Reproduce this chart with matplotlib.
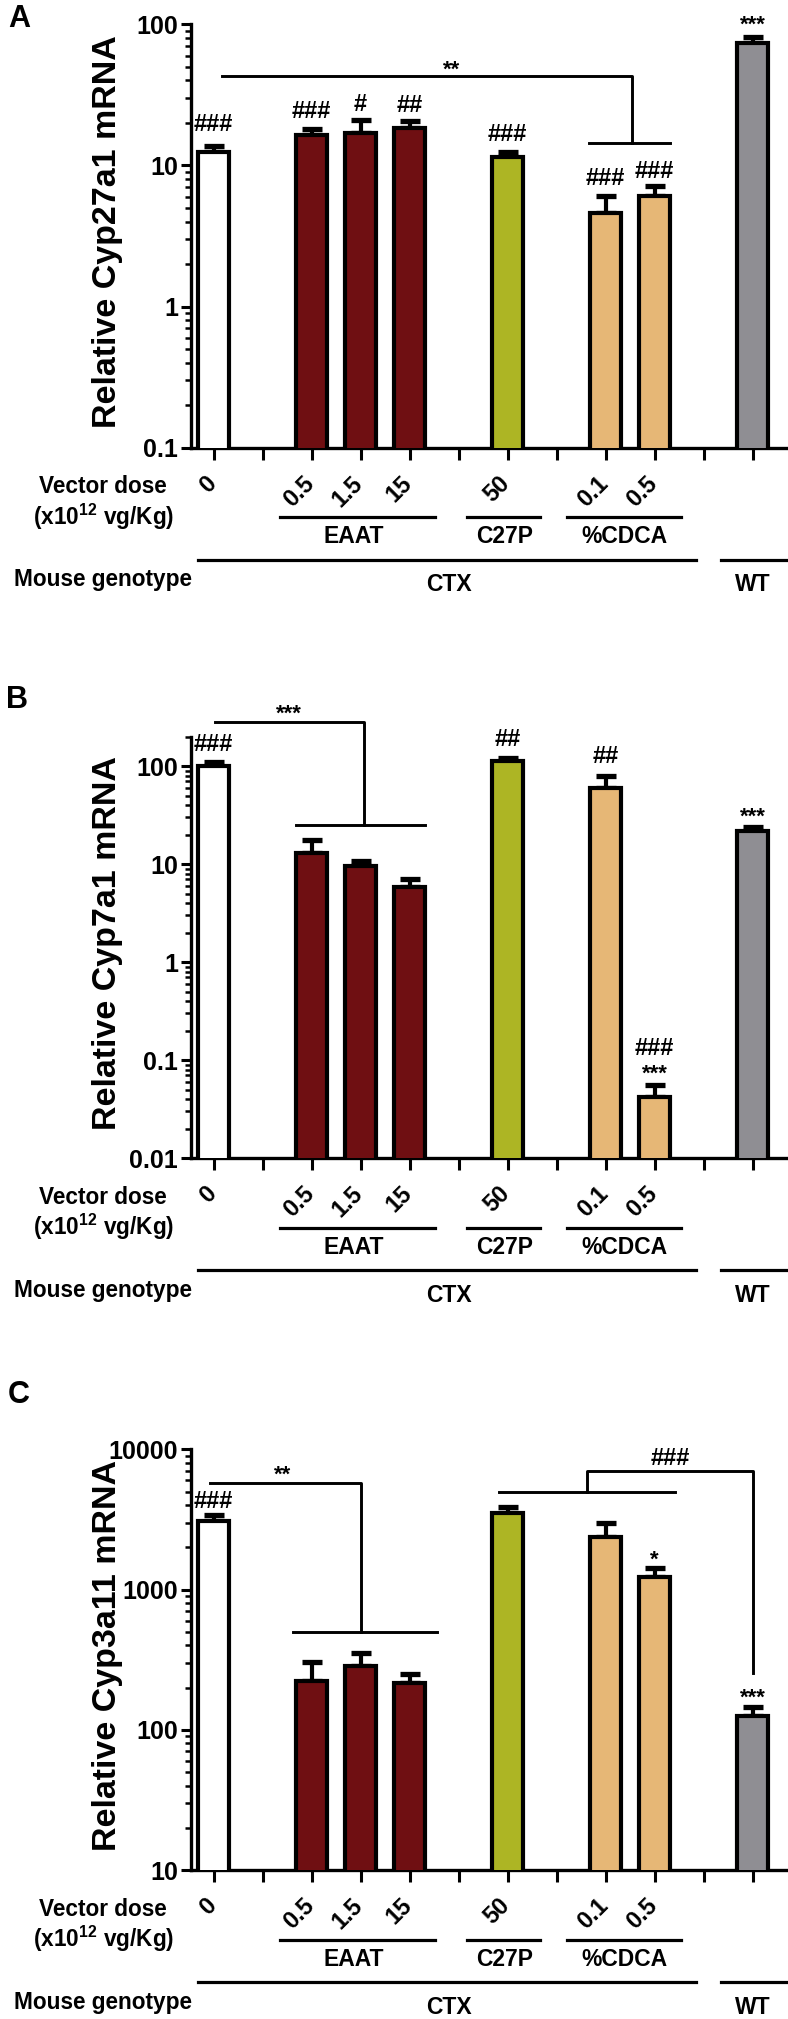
import numpy as np
import matplotlib
matplotlib.use('Agg')
import matplotlib.pyplot as plt
from matplotlib.ticker import LogLocator, FuncFormatter, NullFormatter

plt.rcParams['font.family'] = ['Liberation Sans', 'DejaVu Sans']
plt.rcParams['font.weight'] = 'bold'
plt.rcParams['mathtext.fontset'] = 'custom'
plt.rcParams['mathtext.rm'] = 'Liberation Sans:bold'
plt.rcParams['mathtext.bf'] = 'Liberation Sans:bold'

# bar layout (12 slots, gaps between groups)
positions = [0, 2, 3, 4, 6, 8, 9, 11]
bar_colors = ['#ffffff', '#6f0f12', '#6f0f12', '#6f0f12',
              '#adb524', '#e6b776', '#e6b776', '#8f8e93']
dose_labels = ['0', '0.5', '1.5', '15', '50', '0.1', '0.5']
dose_pos = [0, 2, 3, 4, 6, 8, 9]

groups = ['EAAT', 'C27P', '%CDCA']
group_x = [2.85, 5.94, 8.39]
group_spans = [(1.36, 4.51), (5.17, 6.66), (7.21, 9.54)]
genotypes = ['CTX', 'WT']
genotype_x = [4.8, 11.0]
genotype_spans = [(-0.31, 9.84), (10.35, 11.8)]

# values
cyp27a1 = [12.5, 16.5, 17.0, 18.5, 11.5, 4.6, 6.1, 74]
cyp27a1_err = [1.3, 1.5, 4.0, 2.0, 0.9, 1.5, 1.0, 7]
cyp7a1 = [100, 13.0, 9.6, 5.8, 113, 60, 0.042, 21.7]
cyp7a1_err = [10, 4.5, 1.2, 1.2, 9, 20, 0.014, 2.5]
cyp3a11 = [3100, 222, 287, 217, 3500, 2350, 1220, 125]
cyp3a11_err = [300, 83, 68, 33, 370, 650, 200, 20]

ann_a = [(0, 20.0, '###'), (2, 24.7, '###'), (3, 27.7, '#'), (4, 27.2, '##'),
         (6, 17.0, '###'), (8, 8.3, '###'), (9, 9.3, '###'), (11, 111, '***'),
         (4.85, 53, '**')]
ann_b = [(0, 173, '###'), (6, 195, '##'), (8, 129, '##'), (9, 0.134, '###'),
         (9, 0.0845, '***'), (11, 35.2, '***'), (1.54, 398, '***')]
ann_c = [(0, 4350, '###'), (9, 1820, '*'), (11, 187, '***'),
         (1.40, 7310, '**'), (9.31, 8860, '###')]

# significance brackets as polylines (x list, y list)
br_a = [([0.18, 8.54, 8.54], [43, 43, 14.5]), ([7.66, 9.31], [14.5, 14.5])]
br_b = [([0.03, 3.07, 3.07], [280, 280, 25.1]), ([1.69, 4.31], [25.1, 25.1])]
br_c = [([-0.07, 3.01, 3.01], [5780, 5780, 495]), ([1.62, 4.56], [495, 495]),
        ([7.61, 7.61, 11.0, 11.0], [4990, 7030, 7030, 256]),
        ([5.82, 9.42], [4990, 4990])]

panels = [
    ('A', 'Relative Cyp27a1 mRNA', cyp27a1, cyp27a1_err, (0.1, 100), ann_a, br_a, 24.3, 447.7, (19, 19)),
    ('B', 'Relative Cyp7a1 mRNA', cyp7a1, cyp7a1_err, (0.01, 200), ann_b, br_b, 736.7, 1158.0, (17, 700)),
    ('C', 'Relative Cyp3a11 mRNA', cyp3a11, cyp3a11_err, (10, 10000), ann_c, br_c, 1449.3, 1870.0, (19, 1395)),
]

W, H = 788, 2019
fig = plt.figure(figsize=(W / 100, H / 100), dpi=100)
ax_left = 190.7

for letter, ylab, vals, errs, ylim, anns, brackets, top_px, bot_px, letter_xy in panels:
    ax = fig.add_axes([ax_left / W, (H - bot_px) / H, (W - ax_left) / W, (bot_px - top_px) / H])
    hpx = bot_px - top_px
    ax.set_yscale('log')
    ax.set_ylim(*ylim)
    ax.set_xlim(-0.467, 11.72)

    ax.bar(positions, vals, width=0.64, color=bar_colors, edgecolor='black',
           linewidth=3, zorder=3)
    ax.errorbar(positions, vals, yerr=[np.zeros(len(vals)), errs], fmt='none',
                ecolor='black', elinewidth=3, capsize=7, capthick=3.8, zorder=2)

    for s in ['top', 'right']:
        ax.spines[s].set_visible(False)
    for s in ['left', 'bottom']:
        ax.spines[s].set_linewidth(2.4)

    ax.yaxis.set_major_locator(LogLocator(base=10))
    ax.yaxis.set_minor_locator(LogLocator(base=10, subs=np.arange(2, 10)))
    ax.yaxis.set_major_formatter(FuncFormatter(lambda v, p: f'{v:g}'))
    ax.yaxis.set_minor_formatter(NullFormatter())
    ax.tick_params(axis='y', which='major', length=7, width=2.2, labelsize=18, pad=2)
    ax.tick_params(axis='y', which='minor', length=4, width=1.8)
    ax.set_xticks(range(12))
    ax.set_xticklabels([])
    ax.tick_params(axis='x', length=8.5, width=2.2)

    ax.set_ylabel(ylab, fontsize=24.5, fontweight='bold')
    ax.yaxis.label.set_va('center')
    ax.yaxis.set_label_coords((108 - ax_left) / (W - ax_left), 0.51)

    for x, y, t in anns:
        dy = -5 if '*' in t else -1
        ax.annotate(t, (x, y), xytext=(0, dy), textcoords='offset points',
                    ha='center', va='center', fontsize=16 if '*' in t else 17,
                    fontweight='bold', annotation_clip=False)

    for xs, ys in brackets:
        ax.plot(xs, ys, color='black', lw=2.1, clip_on=False, zorder=4)

    tr = ax.get_xaxis_transform()
    for x, lab in zip(dose_pos, dose_labels):
        ax.text(x - 0.02, -32 / hpx, lab, transform=tr, rotation=45,
                rotation_mode='anchor', ha='right', va='center', fontsize=17)
    for (x0, x1), lab, gx in zip(group_spans, groups, group_x):
        ax.plot([x0, x1], [-69.6 / hpx] * 2, transform=tr, color='black', lw=2.3, clip_on=False)
        ax.text(gx, -89 / hpx, lab, transform=tr, ha='center', va='center', fontsize=16.5)
    for (x0, x1), lab, gx in zip(genotype_spans, genotypes, genotype_x):
        ax.plot([x0, x1], [-112.3 / hpx] * 2, transform=tr, color='black', lw=2.3, clip_on=False)
        ax.text(gx, -137 / hpx, lab, transform=tr, ha='center', va='center', fontsize=16.5)

    fig.text(103 / W, (H - (bot_px + 39)) / H, 'Vector dose', ha='center', va='center', fontsize=16.3)
    fig.text(104 / W, (H - (bot_px + 69)) / H, r'(x10$^{\mathbf{12}}$ vg/Kg)',
             ha='center', va='center', fontsize=16.3)
    fig.text(103.5 / W, (H - (bot_px + 132)) / H, 'Mouse genotype', ha='center', va='center', fontsize=16.3)
    fig.text(letter_xy[0] / W, (H - letter_xy[1]) / H, letter, ha='center', va='center', fontsize=22)

fig.savefig('out.png', dpi=100)
